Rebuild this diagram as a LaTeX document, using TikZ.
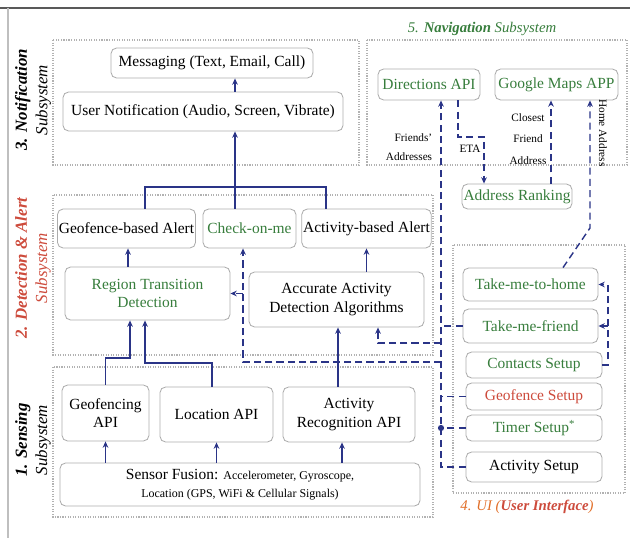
\documentclass[tikz,border=0pt]{standalone}
\usepackage{fontspec}
\setmainfont{Liberation Serif}
\usetikzlibrary{arrows.meta}
\definecolor{navy}{RGB}{42,52,135}
\definecolor{grn}{RGB}{55,125,60}
\definecolor{redish}{RGB}{205,75,60}
\definecolor{uiorange}{RGB}{225,110,40}
\tikzset{
  blk/.style={draw=gray!65, rounded corners=4pt, line width=0.6pt, inner sep=1pt, align=center, font=\fontsize{11}{13}\selectfont},
  sub/.style={draw=gray!60, densely dotted, line width=0.8pt},
  sol/.style={draw=navy, line width=1.2pt},
  sola/.style={sol, -{Stealth[length=4.5pt,width=4pt]}},
  dsh/.style={draw=navy, line width=1pt, dash pattern=on 5pt off 3pt},
  dsha/.style={dsh, -{Stealth[length=4.5pt,width=4pt]}},
  lbl/.style={font=\fontsize{8}{11}\selectfont, align=center},
  side/.style={rotate=90, align=center, font=\fontsize{12}{14.5}\selectfont},
}
\begin{document}
\begin{tikzpicture}[x=0.025cm, y=-0.025cm]
\useasboundingbox (0,0) rectangle (630,538);
\draw[gray!70!black, line width=1.2pt] (0,8) -- (630,8); % top rule
\draw[gray!50, line width=1.5pt] (8,8) -- (8,538); % left rule

% subsystem frames
\draw[sub] (53,40) rectangle (359,165); % notification
\draw[sub] (367,40) rectangle (627,165); % navigation
\draw[sub] (53,195) rectangle (433,355); % detection
\draw[sub] (53,367) rectangle (433,517); % sensing
\draw[sub] (453,245) rectangle (625,493); % ui

% side labels
\node[side] (lnotif) at (33,100) {\textbf{\textit{3. Notification}}\\\textit{Subsystem}};
\node[side, text=redish] (ldet) at (33,268) {\textbf{\textit{2. Detection \& Alert}}\\\textit{Subsystem}};
\node[side] (lsens) at (33,440) {\textbf{\textit{1. Sensing}}\\\textit{Subsystem}};
\node[font=\fontsize{10.5}{13}\selectfont, text=grn] (lnav) at (482,29) {\textit{5. \textbf{Navigation} Subsystem}};
\node[font=\fontsize{10.5}{13}\selectfont, text=uiorange] (lui) at (527,507) {\textit{4. UI (\textbf{\color{redish}User Interface})}};

% notification
\node[blk, minimum width=5.05cm, minimum height=0.75cm] (msg) at (212,63) {Messaging (Text, Email, Call)};
\node[blk, minimum width=7cm, minimum height=0.975cm] (notif) at (203,111.5) {User Notification (Audio, Screen, Vibrate)};

% detection & alert
\node[blk, minimum width=3.325cm, minimum height=0.975cm] (geoalert) at (126.5,228.5) {Geofence-based Alert};
\node[blk, minimum width=2.325cm, minimum height=0.975cm, text=grn] (checkme) at (249.5,228.5) {Check-on-me};
\node[blk, minimum width=3.175cm, minimum height=0.975cm] (actalert) at (366.5,228.5) {Activity-based Alert};
\node[blk, minimum width=4.125cm, minimum height=1.325cm, text=grn] (region) at (147.5,293.5) {Region Transition\\Detection};
\node[blk, minimum width=4.375cm, minimum height=1.375cm] (accurate) at (336.5,299.5) {Accurate Activity\\Detection Algorithms};

% sensing
\node[blk, minimum width=2.175cm, minimum height=1.4cm] (geofapi) at (105.5,413) {Geofencing\\API};
\node[blk, minimum width=2.825cm, minimum height=1.375cm] (locapi) at (216.5,414.5) {Location API};
\node[blk, minimum width=3.3cm, minimum height=1.375cm] (actapi) at (349,414.5) {Activity\\Recognition API};
\node[blk, minimum width=9cm, minimum height=1.075cm] (fusion) at (240,484.5) {Sensor Fusion: {\fontsize{8.5}{11}\selectfont Accelerometer, Gyroscope,}\\{\fontsize{8.5}{11}\selectfont Location (GPS, WiFi \& Cellular Signals)}};

% navigation
\node[blk, minimum width=2.55cm, minimum height=0.775cm, text=grn] (dirapi) at (429,84.5) {Directions API};
\node[blk, minimum width=3.075cm, minimum height=0.775cm, text=grn] (gmaps) at (556.5,84.5) {Google Maps APP};
\node[blk, minimum width=2.75cm, minimum height=0.625cm, text=grn] (ranking) at (517,196.5) {Address Ranking};

% user interface
\node[blk, minimum width=3.375cm, minimum height=0.825cm, text=grn] (tohome) at (530.5,284.5) {Take-me-to-home};
\node[blk, minimum width=3.375cm, minimum height=0.85cm, text=grn] (tofriend) at (530.5,326) {Take-me-friend};
\node[blk, minimum width=3.4cm, minimum height=0.65cm, text=grn] (contacts) at (534,365) {Contacts Setup};
\node[blk, minimum width=3.4cm, minimum height=0.675cm, text=redish] (geosetup) at (534,396.5) {Geofence Setup};
\node[blk, minimum width=3.4cm, minimum height=0.65cm, text=grn] (timer) at (534,428) {Timer Setup\textsuperscript{*}};
\node[blk, minimum width=3.4cm, minimum height=0.75cm] (actsetup) at (534,467) {Activity Setup};

% solid flows
\coordinate (bus) at (235,187);
\coordinate (xgeo) at (145,187);
\coordinate (xact) at (326,187);
\draw[sol] (geoalert.north -| xgeo) -- (xgeo) -- (xact) -- (actalert.north -| xact); % alert bus
\draw[sola] (checkme.north -| bus) -- (notif.south -| bus);
\draw[sola] (notif.north -| bus) -- (msg.south -| bus);
\coordinate (xrt) at (128,0);
\draw[sola] (region.north -| xrt) -- (geoalert.south -| xrt);
\draw[sola] (accurate.north -| actalert.south) -- (actalert.south);
\coordinate (j1) at (130,358);
\coordinate (j2) at (145,363);
\coordinate (xloc) at (212,0);
\draw[sola] (geofapi.north) |- (j1) -- (region.south -| j1);
\draw[sola] (locapi.north -| xloc) |- (j2) -- (region.south -| j2);
\coordinate (xaa) at (338,0);
\draw[sola] (actapi.north -| xaa) -- (accurate.south -| xaa);
\coordinate (xfa) at (342,0);
\draw[sola] (fusion.north -| geofapi.south) -- (geofapi.south);
\draw[sola] (fusion.north -| locapi.south) -- (locapi.south);
\draw[sola] (fusion.north -| xfa) -- (actapi.south -| xfa);

% dashed flows from the ui
\coordinate (vb) at (441,467);
\draw[dsha] (actsetup.west) -| (dirapi.south -| vb); % long bus
\draw[dsh] (tofriend.west) -- (tofriend.west -| vb);
\draw[dsh] (geosetup.west) -- (geosetup.west -| vb);
\draw[dsh] (timer.west) -- (timer.west -| vb);
\fill[navy] (timer.west -| vb) circle (2.2pt);
\coordinate (c243) at (243,362);
\draw[dsha] (c243 -| vb) -- (c243) -- (checkme.south -| c243);
\draw[dsha] (region.east -| c243) -- (region.east);
\coordinate (c378) at (378,343);
\draw[dsha] (c378 -| vb) -- (c378) -- (accurate.south -| c378);
\coordinate (cb) at (608,365);
\draw[dsha] (contacts.east) -- (cb) |- (tohome.east);
\draw[dsha] (tofriend.east -| cb) -- (tofriend.east);

% navigation flows
\coordinate (eta1) at (458,137);
\coordinate (eta2) at (484,137);
\draw[dsha] (dirapi.south -| eta1) -- (eta1) -- (eta2) -- (ranking.north -| eta2); % eta
\node[lbl] (leta) at (470,149) {ETA};
\coordinate (xcf) at (551,0);
\draw[dsha] (ranking.north -| xcf) -- (gmaps.south -| xcf);
\node[lbl, font=\fontsize{8}{15.5}\selectfont] (lcf) at (528,139) {Closest\\Friend\\Address};
\coordinate (hk) at (590,228);
\draw[dsha] ([xshift=0.8125cm]tohome.north) -- (hk) -- (gmaps.south -| hk); % home
\node[lbl, rotate=-90] (lha) at (603,133) {Home Address};
\node[lbl, align=right, font=\fontsize{8}{14}\selectfont] (lfa) at (409,147) {Friends'\\Addresses};

\end{tikzpicture}
\end{document}
